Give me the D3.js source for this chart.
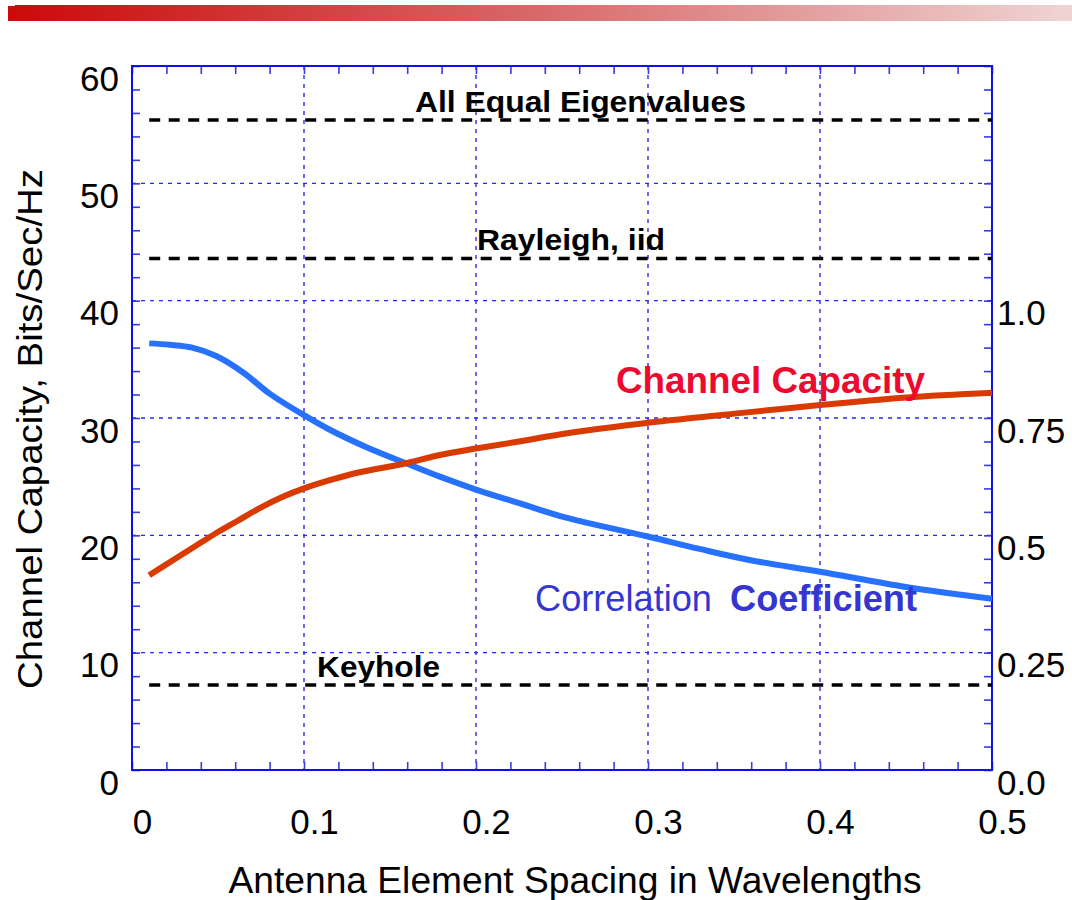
<!DOCTYPE html>
<html>
<head>
<meta charset="utf-8">
<script src="https://cdn.jsdelivr.net/npm/d3@7"></script>
<style>
  html, body { margin: 0; padding: 0; background: #ffffff; }
  svg { display: block; font-family: "Liberation Sans", Arial, Helvetica, sans-serif; }
</style>
</head>
<body>
<svg id="chart" width="1072" height="900"></svg>
<script>
// ---------------- data ----------------
const capacitySpacing = [0.01, 0.024, 0.036, 0.049, 0.061, 0.074, 0.088, 0.10, 0.115, 0.133, 0.158, 0.179, 0.20, 0.225, 0.253, 0.30, 0.359, 0.40, 0.45, 0.50];
const capacityValues  = [16.6, 17.9, 19.0, 20.2, 21.2, 22.3, 23.3, 24.0, 24.7, 25.4, 26.1, 26.85, 27.4, 28.0, 28.7, 29.6, 30.5, 31.1, 31.75, 32.15];

const correlationSpacing = [0.01, 0.022, 0.035, 0.049, 0.065, 0.080, 0.10, 0.115, 0.135, 0.16, 0.179, 0.20, 0.226, 0.253, 0.30, 0.33, 0.359, 0.40, 0.45, 0.50];
const correlationValues  = [0.909, 0.906, 0.9, 0.882, 0.846, 0.802, 0.756, 0.725, 0.69, 0.6525, 0.625, 0.5975, 0.5675, 0.537, 0.4975, 0.471, 0.4475, 0.4225, 0.39, 0.365];

const referenceNames  = ["All Equal Eigenvalues", "Rayleigh, iid", "Keyhole"];
const referenceValues = [55.4, 43.6, 7.25];
const referenceRange  = [0.01, 0.5];

const xTicks = [0, 0.1, 0.2, 0.3, 0.4, 0.5];
const xTickLabels = ["0", "0.1", "0.2", "0.3", "0.4", "0.5"];
const leftTicks = [0, 10, 20, 30, 40, 50, 60];
const leftTickLabels = ["0", "10", "20", "30", "40", "50", "60"];
const rightTicks = [0, 0.25, 0.5, 0.75, 1.0];
const rightTickLabels = ["0.0", "0.25", "0.5", "0.75", "1.0"];

const xTitle = "Antenna Element Spacing in Wavelengths";
const yTitle = "Channel Capacity, Bits/Sec/Hz";
const capacityLabel = "Channel Capacity";
const correlationLabelA = "Correlation";
const correlationLabelB = "Coefficient";

// ---------------- layout ----------------
const svg = d3.select("#chart");
const L = 132, R = 992, T = 66, B = 770;

const x = d3.scaleLinear().domain([0, 0.5]).range([L, R]);
const y = d3.scaleLinear().domain([0, 60]).range([B, T]);
const y2 = d3.scaleLinear().domain([0, 1.5]).range([B, T]);

// header gradient bar
const defs = svg.append("defs");
const grad = defs.append("linearGradient").attr("id", "hdr").attr("x1", "0").attr("x2", "1").attr("y1", "0").attr("y2", "0");
grad.append("stop").attr("offset", "0%").attr("stop-color", "#cc0a0a");
grad.append("stop").attr("offset", "50%").attr("stop-color", "#d86a6a");
grad.append("stop").attr("offset", "100%").attr("stop-color", "#efd4d4");
svg.append("rect").attr("x", 8).attr("y", 6).attr("width", 10).attr("height", 15).attr("fill", "#cc0a0a");
svg.append("rect").attr("x", 15).attr("y", 5).attr("width", 1057).attr("height", 16).attr("fill", "url(#hdr)");

// grid
const gridColor = "#2a2ae8";
svg.append("g").selectAll("line").data(xTicks.slice(1, -1)).join("line")
  .attr("x1", d => x(d)).attr("x2", d => x(d)).attr("y1", T).attr("y2", B)
  .attr("stroke", gridColor).attr("stroke-width", 1.4).attr("stroke-dasharray", "4,5");
svg.append("g").selectAll("line").data(leftTicks.slice(1, -1)).join("line")
  .attr("x1", L).attr("x2", R).attr("y1", d => y(d)).attr("y2", d => y(d))
  .attr("stroke", gridColor).attr("stroke-width", 1.4).attr("stroke-dasharray", "4,5");

// minor ticks via d3 axes (inward)
const tickColor = "#3a3ae0";
function styleAxis(g) {
  g.select(".domain").remove();
  g.selectAll(".tick line").attr("stroke", tickColor).attr("stroke-width", 1.6);
  g.selectAll("text").remove();
}
const xMinor = d3.range(0, 26).map(i => i * 0.02);
const yMinor = d3.range(0, 31).map(i => i * 2);
svg.append("g").attr("transform", `translate(0,${B})`)
  .call(d3.axisBottom(x).tickValues(xMinor).tickSize(-8).tickFormat("")).call(styleAxis);
svg.append("g").attr("transform", `translate(0,${T})`)
  .call(d3.axisTop(x).tickValues(xMinor).tickSize(-8).tickFormat("")).call(styleAxis);
svg.append("g").attr("transform", `translate(${L},0)`)
  .call(d3.axisLeft(y).tickValues(yMinor).tickSize(-8).tickFormat("")).call(styleAxis);
svg.append("g").attr("transform", `translate(${R},0)`)
  .call(d3.axisRight(y).tickValues(yMinor).tickSize(-8).tickFormat("")).call(styleAxis);

// frame
svg.append("rect").attr("x", L).attr("y", T).attr("width", R - L).attr("height", B - T)
  .attr("fill", "none").attr("stroke", "#1010e6").attr("stroke-width", 2);

// tick labels
const labelFont = 35;
function labelAxis(g) {
  g.select(".domain").remove();
  g.selectAll(".tick line").remove();
  g.selectAll("text").attr("font-size", labelFont).attr("fill", "#000")
    .attr("font-family", "'Liberation Sans', Arial, sans-serif");
}
svg.append("g").attr("transform", `translate(0,${B})`)
  .call(d3.axisBottom(x).tickValues(xTicks).tickSize(0).tickPadding(0)
    .tickFormat((d, i) => xTickLabels[i]))
  .call(labelAxis)
  .selectAll("text").attr("dy", null).attr("y", 64).attr("x", 10);
svg.append("g").attr("transform", `translate(${L},0)`)
  .call(d3.axisLeft(y).tickValues(leftTicks).tickSize(0).tickPadding(13)
    .tickFormat((d, i) => leftTickLabels[i]))
  .call(labelAxis)
  .selectAll("text").attr("dy", null).attr("y", 24);
svg.append("g").attr("transform", `translate(${R},0)`)
  .call(d3.axisRight(y2).tickValues(rightTicks).tickSize(0).tickPadding(5)
    .tickFormat((d, i) => rightTickLabels[i]))
  .call(labelAxis)
  .selectAll("text").attr("dy", null).attr("y", 24);

// reference dashed lines + labels
const refLabelStart = [0.1645, 0.2006, 0.1076];
const refG = svg.append("g");
refG.selectAll("line").data(referenceValues).join("line")
  .attr("x1", x(referenceRange[0])).attr("x2", x(referenceRange[1]))
  .attr("y1", d => y(d)).attr("y2", d => y(d))
  .attr("stroke", "#000").attr("stroke-width", 3.6).attr("stroke-dasharray", "11,8.5");
const refWidths = [331, 188, 123];
refG.selectAll("text").data(referenceNames).join("text")
  .attr("x", (d, i) => x(refLabelStart[i]))
  .attr("y", (d, i) => y(referenceValues[i]) - 8)
  .attr("font-size", 30).attr("font-weight", "bold").attr("fill", "#000")
  .attr("textLength", (d, i) => refWidths[i]).attr("lengthAdjust", "spacingAndGlyphs")
  .text(d => d);

// curves
const line = d3.line().x(d => x(d[0])).y(d => d[1]).curve(d3.curveCatmullRom.alpha(0.5));
const capPts = capacitySpacing.map((s, i) => [s, y(capacityValues[i])]);
const corPts = correlationSpacing.map((s, i) => [s, y2(correlationValues[i])]);
svg.append("path").datum(corPts).attr("d", line)
  .attr("fill", "none").attr("stroke", "#2771ff").attr("stroke-width", 6).attr("stroke-linecap", "butt");
svg.append("path").datum(capPts).attr("d", line)
  .attr("fill", "none").attr("stroke", "#d93a00").attr("stroke-width", 6).attr("stroke-linecap", "butt");

// curve labels
svg.append("text").attr("x", 616).attr("y", 393)
  .attr("font-size", 36).attr("font-weight", "bold").attr("fill", "#ee0a2e")
  .attr("textLength", 309).attr("lengthAdjust", "spacingAndGlyphs")
  .text(capacityLabel);
svg.append("text").attr("x", 535).attr("y", 611)
  .attr("font-size", 37).attr("fill", "#3535d0")
  .attr("textLength", 177).attr("lengthAdjust", "spacingAndGlyphs")
  .text(correlationLabelA);
svg.append("text").attr("x", 730).attr("y", 611)
  .attr("font-size", 37).attr("font-weight", "bold").attr("fill", "#3535d0")
  .attr("textLength", 187).attr("lengthAdjust", "spacingAndGlyphs")
  .text(correlationLabelB);

// axis titles
svg.append("text").attr("x", 575).attr("y", 893).attr("text-anchor", "middle")
  .attr("font-size", 36).attr("fill", "#000")
  .attr("textLength", 693).attr("lengthAdjust", "spacingAndGlyphs")
  .text(xTitle);
svg.append("text").attr("transform", "translate(42,429) rotate(-90)").attr("text-anchor", "middle")
  .attr("font-size", 35).attr("fill", "#000")
  .attr("textLength", 520).attr("lengthAdjust", "spacingAndGlyphs")
  .text(yTitle);
</script>
</body>
</html>
